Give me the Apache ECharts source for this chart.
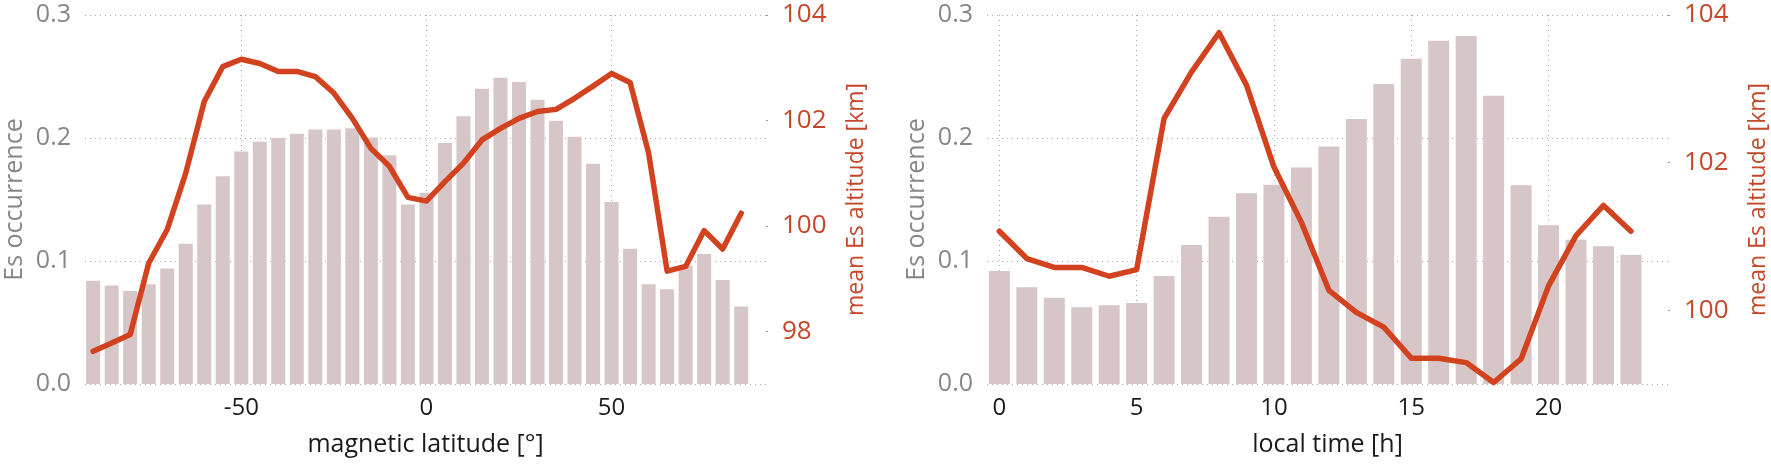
<!DOCTYPE html>
<html>
<head>
<meta charset="utf-8">
<script src="https://cdn.jsdelivr.net/npm/echarts@6/dist/echarts.min.js"></script>
<style>
html,body{margin:0;padding:0;background:#fff;}
#chart{width:1771px;height:464px;}
</style>
</head>
<body>
<div id="chart"></div>
<script>
// ---- data ----
const latitude = [-90,-85,-80,-75,-70,-65,-60,-55,-50,-45,-40,-35,-30,-25,-20,-15,-10,-5,0,5,10,15,20,25,30,35,40,45,50,55,60,65,70,75,80,85];
const latOccurrence = [0.084,0.080,0.0756,0.081,0.094,0.114,0.146,0.169,0.189,0.197,0.200,0.2035,0.207,0.207,0.208,0.2005,0.186,0.146,0.1555,0.196,0.2176,0.240,0.249,0.2455,0.231,0.214,0.201,0.179,0.148,0.110,0.081,0.077,0.096,0.1057,0.0846,0.063];
const latAltitude = [97.62,97.78,97.94,99.29,99.93,101.0,102.36,103.02,103.16,103.08,102.93,102.93,102.83,102.52,102.04,101.47,101.13,100.54,100.47,100.84,101.19,101.63,101.85,102.04,102.17,102.21,102.42,102.65,102.89,102.72,101.38,99.14,99.23,99.91,99.56,100.24];

const hours = [0,1,2,3,4,5,6,7,8,9,10,11,12,13,14,15,16,17,18,19,20,21,22,23];
const ltOccurrence = [0.0919,0.0786,0.0702,0.0623,0.064,0.0659,0.0878,0.113,0.136,0.155,0.162,0.176,0.193,0.2154,0.244,0.2645,0.279,0.283,0.2344,0.1615,0.129,0.1173,0.112,0.105];
const ltAltitude = [101.07,100.70,100.58,100.58,100.46,100.55,102.60,103.23,103.76,103.05,101.94,101.19,100.27,99.97,99.77,99.35,99.35,99.29,99.02,99.34,100.33,101.01,101.42,101.07];

const latTicks = [-50, 0, 50];
const ltTicks = [0, 5, 10, 15, 20];
const altTicksLat = [98, 100, 102, 104];
const altTicksLt = [100, 102, 104];

// ---- styles ----
const FONT = '"Open Sans", "Noto Sans", sans-serif';
const BAR = '#d6c6c7';
const LINE = '#d2421f';
const RUST = '#c4472a';
const GREY = '#8a8585';
const DOT = { color: '#a8a8a8', width: 1, type: [1, 4] };

function pairs(xs, ys){ return xs.map((x,i)=>[x, ys[i]]); }

function xAxis(grid, min, max, ticks, name){
  return {
    type:'value', gridIndex:grid, min:min, max:max,
    name:name, nameLocation:'middle', nameGap:48,
    nameTextStyle:{color:'#1a1a1a', fontSize:25, fontFamily:FONT},
    axisLine:{show:false},
    axisTick:{show:false, customValues:ticks},
    axisLabel:{customValues:ticks, color:'#1a1a1a', fontSize:24, fontFamily:FONT, margin:12},
    splitLine:{show:true, lineStyle:DOT}
  };
}
function yLeft(grid){
  return {
    type:'value', gridIndex:grid, min:0, max:0.3, interval:0.1,
    name:'Es occurrence', nameLocation:'middle', nameRotate:90, nameGap:58,
    nameTextStyle:{color:GREY, fontSize:25, fontFamily:FONT},
    axisLine:{show:false}, axisTick:{show:false},
    axisLabel:{color:GREY, fontSize:25, fontFamily:FONT, margin:14, formatter:v=>v.toFixed(1)},
    splitLine:{show:true, lineStyle:DOT}
  };
}
function yRight(grid, min, ticks){
  return {
    type:'value', gridIndex:grid, position:'right', min:min, max:104,
    name:'mean Es altitude [km]', nameLocation:'middle', nameRotate:90, nameGap:79,
    nameTextStyle:{color:RUST, fontSize:23, fontFamily:FONT},
    axisLine:{show:false},
    axisTick:{show:true, inside:false, length:2, customValues:ticks, lineStyle:{color:'#999', width:1}},
    axisLabel:{customValues:ticks, color:RUST, fontSize:26, fontFamily:FONT, margin:16},
    splitLine:{show:false}
  };
}

const option = {
  animation:false,
  backgroundColor:'#fff',
  grid:[
    {left:85, top:15, width:681, height:369},
    {left:987, top:15, width:681, height:369}
  ],
  xAxis:[
    xAxis(0, -92.2, 91.7, latTicks, 'magnetic latitude [°]'),
    xAxis(1, -0.45, 24.35, ltTicks, 'local time [h]')
  ],
  yAxis:[
    yLeft(0), yRight(0, 97, altTicksLat),
    yLeft(1), yRight(1, 99, altTicksLt)
  ],
  series:[
    {type:'bar', xAxisIndex:0, yAxisIndex:0, barWidth:14, itemStyle:{color:BAR}, data:pairs(latitude, latOccurrence)},
    {type:'line', xAxisIndex:0, yAxisIndex:1, symbol:'none', lineStyle:{color:LINE, width:5.5, join:'round', cap:'round'}, data:pairs(latitude, latAltitude)},
    {type:'bar', xAxisIndex:1, yAxisIndex:2, barWidth:21, itemStyle:{color:BAR}, data:pairs(hours, ltOccurrence)},
    {type:'line', xAxisIndex:1, yAxisIndex:3, symbol:'none', lineStyle:{color:LINE, width:5.5, join:'round', cap:'round'}, data:pairs(hours, ltAltitude)}
  ]
};
const chart = echarts.init(document.getElementById('chart'), null, {renderer:'canvas'});
chart.setOption(option);
</script>
</body>
</html>
